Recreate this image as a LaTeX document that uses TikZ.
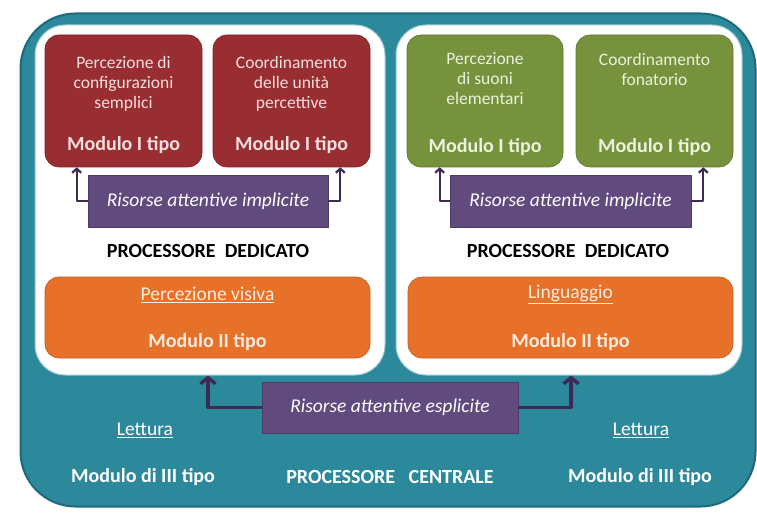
\documentclass[tikz,border=0pt]{standalone}
\usepackage{fontspec}
\setmainfont{Carlito}
\usetikzlibrary{arrows.meta}
\usetikzlibrary{positioning}
\definecolor{tealbg}{RGB}{44,137,155}
\definecolor{tealdark}{RGB}{30,105,122}
\definecolor{tealline}{RGB}{150,200,210}
\definecolor{redmod}{RGB}{152,46,50}
\definecolor{greenmod}{RGB}{118,146,60}
\definecolor{orangemod}{RGB}{232,113,42}
\definecolor{purplemod}{RGB}{96,74,126}
\definecolor{arrowpurple}{RGB}{62,42,84}
\definecolor{redtext}{RGB}{246,222,222}
\definecolor{greentext}{RGB}{236,242,222}
\definecolor{orangetext}{RGB}{253,236,222}

\begin{document}
\begin{tikzpicture}[x=1pt,y=-1pt,line cap=round,line join=round,
  modbox/.style={draw=#1!80!black, fill=#1, line width=0.6pt, rounded corners=14pt, inner sep=0pt},
  risorse/.style={draw=purplemod!80!black, fill=purplemod, line width=0.6pt, inner sep=0pt,
    text=white, font=\fontsize{19.5}{22}\selectfont\itshape},
  desc/.style={align=center, anchor=north, inner sep=0pt, font=\fontsize{17.5}{20}\selectfont},
  undtxt/.style={inner sep=0pt, font=\fontsize{19.5}{22}\selectfont},
  modtxt/.style={inner sep=0pt, font=\fontsize{20}{22}\selectfont\bfseries},
  proctxt/.style={inner sep=0pt, font=\fontsize{20}{22}\selectfont\bfseries},
  implarr/.style={draw=arrowpurple, line width=2.2pt, line cap=butt, -{Straight Barb[length=4pt,width=9pt]}},
  explarr/.style={draw=arrowpurple, line width=3.6pt, line cap=butt, -{Straight Barb[length=6pt,width=15pt]}}]
\useasboundingbox (0,0) rectangle (757,513);

% processore centrale
\node[draw=tealdark, fill=tealbg, line width=2pt, rounded corners=55pt, minimum width=735pt, minimum height=493pt] (central) at (388,260) {};

% processori dedicati
\node[draw=tealline, fill=white, line width=1pt, rounded corners=30pt, minimum width=350pt, minimum height=350pt] (wl) at (210,200) {};
\node[draw=tealline, fill=white, line width=1pt, rounded corners=30pt, minimum width=346pt, minimum height=350pt] (wr) at (569,200) {};

% moduli di I tipo
\node[modbox=redmod, minimum width=157pt, minimum height=132pt] (r1) at (123.5,101) {};
\node[modbox=redmod, minimum width=157pt, minimum height=132pt] (r2) at (291.5,101) {};
\node[modbox=greenmod, minimum width=156pt, minimum height=132pt] (g1) at (485,101) {};
\node[modbox=greenmod, minimum width=157pt, minimum height=132pt] (g2) at (654.5,101) {};

\node[desc, text=redtext] (r1t) at ([yshift=-21pt]r1.north) {Percezione di\\configurazioni\\semplici};
\node[desc, text=redtext] (r2t) at ([yshift=-21pt]r2.north) {Coordinamento\\delle unità\\percettive};
\node[desc, text=greentext] (g1t) at ([yshift=-18pt]g1.north) {Percezione\\di suoni\\elementari};
\node[desc, text=greentext] (g2t) at ([yshift=-18pt]g2.north) {Coordinamento\\fonatorio};

\node[modtxt, text=redtext] (r1m) at ([yshift=22pt]r1.south) {Modulo I tipo};
\node[modtxt, text=redtext] (r2m) at ([yshift=22pt]r2.south) {Modulo I tipo};
\node[modtxt, text=greentext] (g1m) at ([yshift=20pt]g1.south) {Modulo I tipo};
\node[modtxt, text=greentext] (g2m) at ([yshift=20pt]g2.south) {Modulo I tipo};

% risorse implicite
\node[risorse, minimum width=240pt, minimum height=52pt] (imp1) at (208,201) {Risorse attentive implicite};
\node[risorse, minimum width=241pt, minimum height=52pt] (imp2) at (570.5,201) {Risorse attentive implicite};
\draw[implarr] (imp1.west) -| ([xshift=32pt]r1.south west);
\draw[implarr] (imp1.east) -| ([xshift=-30pt]r2.south east);
\draw[implarr] (imp2.west) -| ([xshift=33pt]g1.south west);
\draw[implarr] (imp2.east) -| ([xshift=-30pt]g2.south east);

\node[proctxt] (pd1) at (208,251) {PROCESSORE\ \ DEDICATO};
\node[proctxt] (pd2) at (568,251) {PROCESSORE\ \ DEDICATO};

% moduli di II tipo
\node[modbox=orangemod, minimum width=325pt, minimum height=81pt] (o1) at (207.5,317.5) {};
\node[modbox=orangemod, minimum width=325pt, minimum height=81pt] (o2) at (570.5,317.5) {};
\node[undtxt, text=orangetext] (o1t) at ([yshift=-18pt]o1.north) {\underline{Percezione visiva}};
\node[undtxt, text=orangetext] (o2t) at ([yshift=-18pt]o2.north) {\underline{Linguaggio}};
\node[modtxt, text=orangetext] (o1m) at ([yshift=16pt]o1.south) {Modulo II tipo};
\node[modtxt, text=orangetext] (o2m) at ([yshift=16pt]o2.south) {Modulo II tipo};

% risorse esplicite
\node[risorse, minimum width=256pt, minimum height=51pt] (expl) at (390,407.5) {Risorse attentive esplicite};
\draw[explarr] (expl.west) -| ([xshift=-2pt]wl.south);
\draw[explarr] (expl.east) -| ([xshift=2pt]wr.south);

% moduli di III tipo
\node[undtxt, text=white] (let1) at (145,430) {\underline{Lettura}};
\node[undtxt, text=white] (let2) at (641,430) {\underline{Lettura}};
\node[modtxt, text=white] (m3a) at (143,477) {Modulo di III tipo};
\node[modtxt, text=white] (m3b) at (640,477) {Modulo di III tipo};
\node[proctxt, text=white] (pc) at (390,477) {PROCESSORE\ \ \ CENTRALE};
\end{tikzpicture}
\end{document}
